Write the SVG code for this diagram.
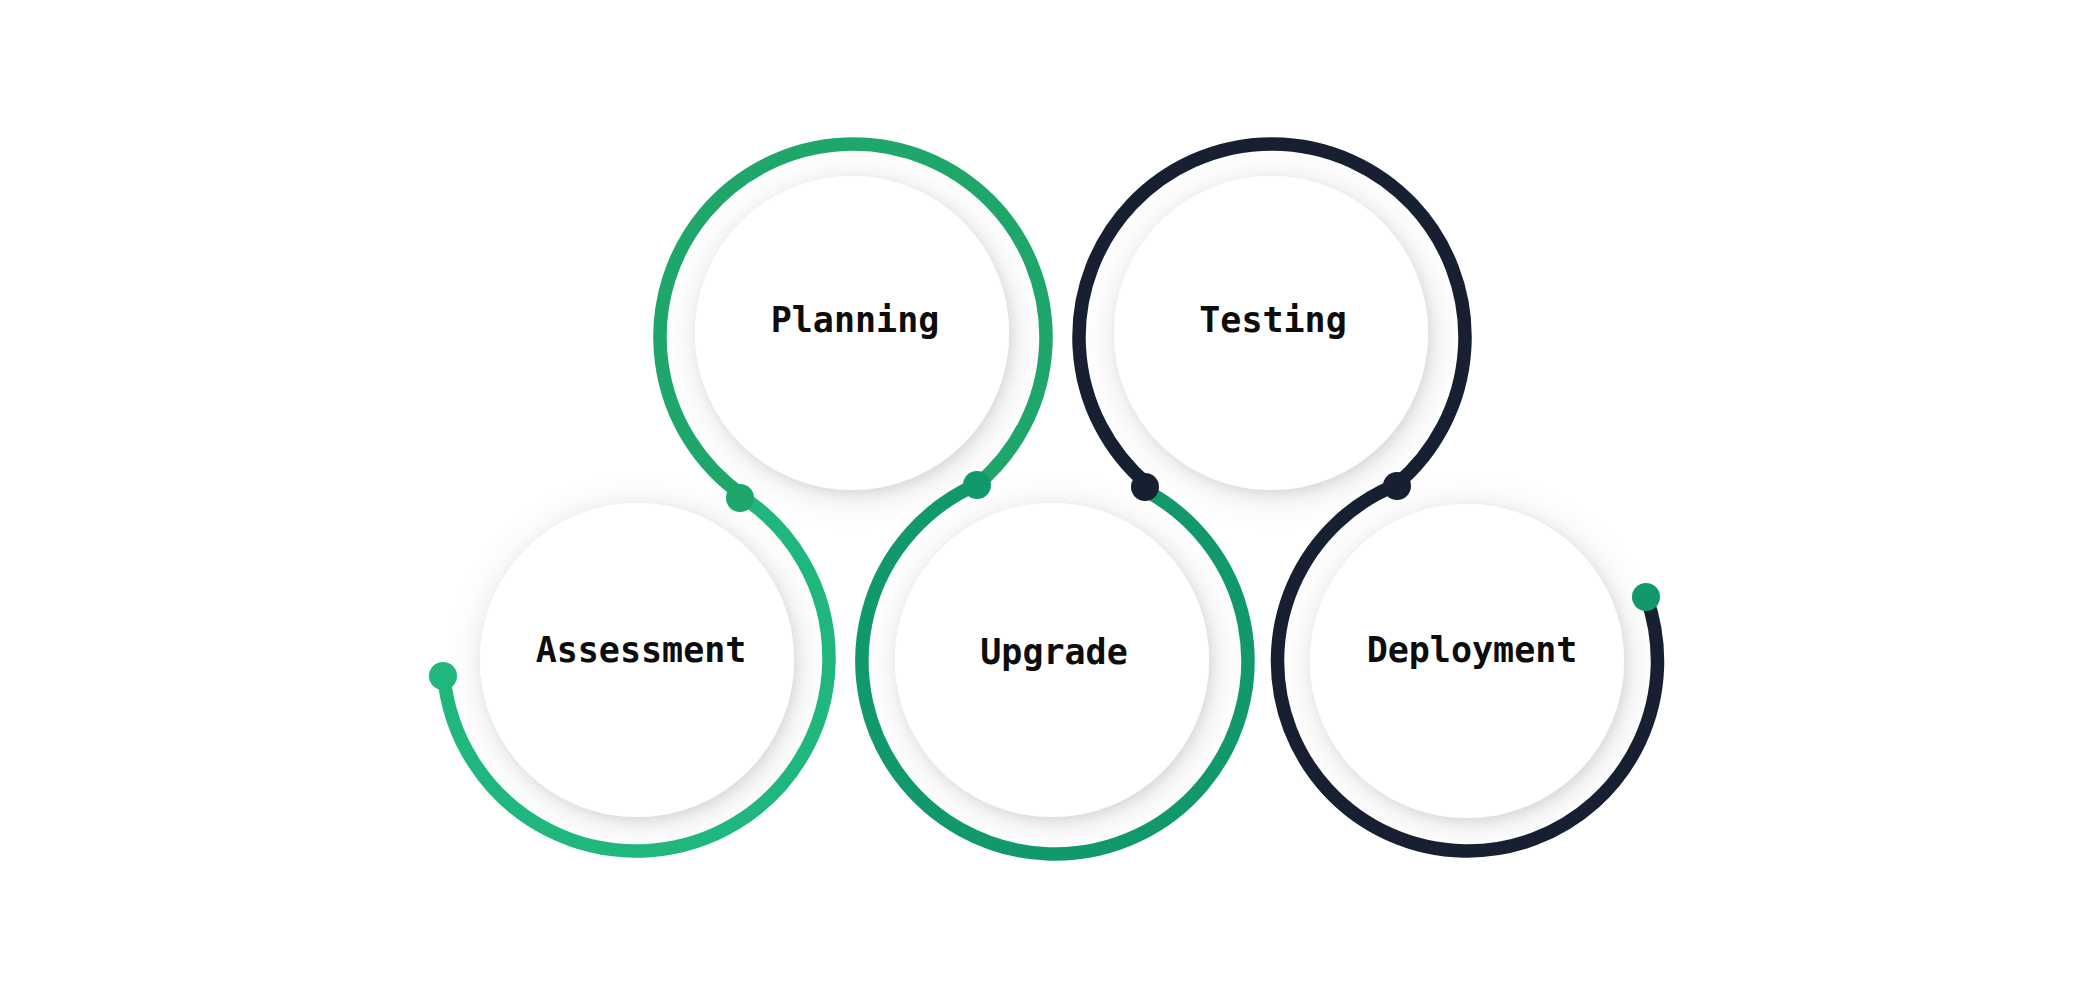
<svg xmlns="http://www.w3.org/2000/svg" width="2084" height="1000" viewBox="0 0 2084 1000">
<style>
.disc{fill:#ffffff;filter:url(#sh)}
.lbl{font-family:"DejaVu Sans Mono","Liberation Mono",monospace;font-size:35px;font-weight:700;fill:#0d0d0d;text-anchor:middle}
.arc{fill:none;stroke-width:13.5;stroke-linecap:round}
.c1{stroke:#20b77f}.c2{stroke:#1ea66b}.c3{stroke:#12996a}.c4{stroke:#172031}
</style>
<defs>
<filter id="sh" x="-40%" y="-40%" width="180%" height="180%">
<feDropShadow dx="3" dy="5" stdDeviation="18" flood-color="#000" flood-opacity="0.12"/>
<feDropShadow dx="3" dy="4" stdDeviation="6" flood-color="#000" flood-opacity="0.08"/>
</filter>
</defs>
<rect width="2084" height="1000" fill="#ffffff"/>
<g id="node-assessment">
<circle class="disc" cx="637" cy="660" r="157"/>
<text class="lbl" x="641" y="662">Assessment</text>
</g>
<g id="node-planning">
<circle class="disc" cx="852" cy="333" r="157"/>
<text class="lbl" x="855" y="332">Planning</text>
</g>
<g id="node-upgrade">
<circle class="disc" cx="1052" cy="660" r="157"/>
<text class="lbl" x="1054" y="664">Upgrade</text>
</g>
<g id="node-testing">
<circle class="disc" cx="1271" cy="333" r="157"/>
<text class="lbl" x="1273" y="332">Testing</text>
</g>
<g id="node-deployment">
<circle class="disc" cx="1467" cy="661" r="157"/>
<text class="lbl" x="1472" y="662">Deployment</text>
</g>
<g id="connectors">
<path class="arc c1" d="M443.9 676.5 A193 193 0 1 0 741.1 496.1"/>
<path class="arc c2" d="M742 494.9 A193 193 0 1 1 977.1 484.8"/>
<path class="arc c3" d="M976.8 484.5 A193 193 0 1 0 1143.7 489.6"/>
<path class="arc c4" d="M1147.3 484.3 A193 193 0 1 1 1396.1 484.8"/>
<path class="arc c4" d="M1396.6 484.7 A190 190 0 1 0 1646.4 597"/>
<circle cx="443" cy="676" r="14" fill="#20b77f"/>
<circle cx="740" cy="498" r="14" fill="#1ea66b"/>
<circle cx="977" cy="485" r="14" fill="#12996a"/>
<circle cx="1145" cy="487" r="14" fill="#172031"/>
<circle cx="1397" cy="486" r="14" fill="#172031"/>
<circle cx="1646" cy="597" r="14" fill="#12996a"/>
</g>
</svg>
